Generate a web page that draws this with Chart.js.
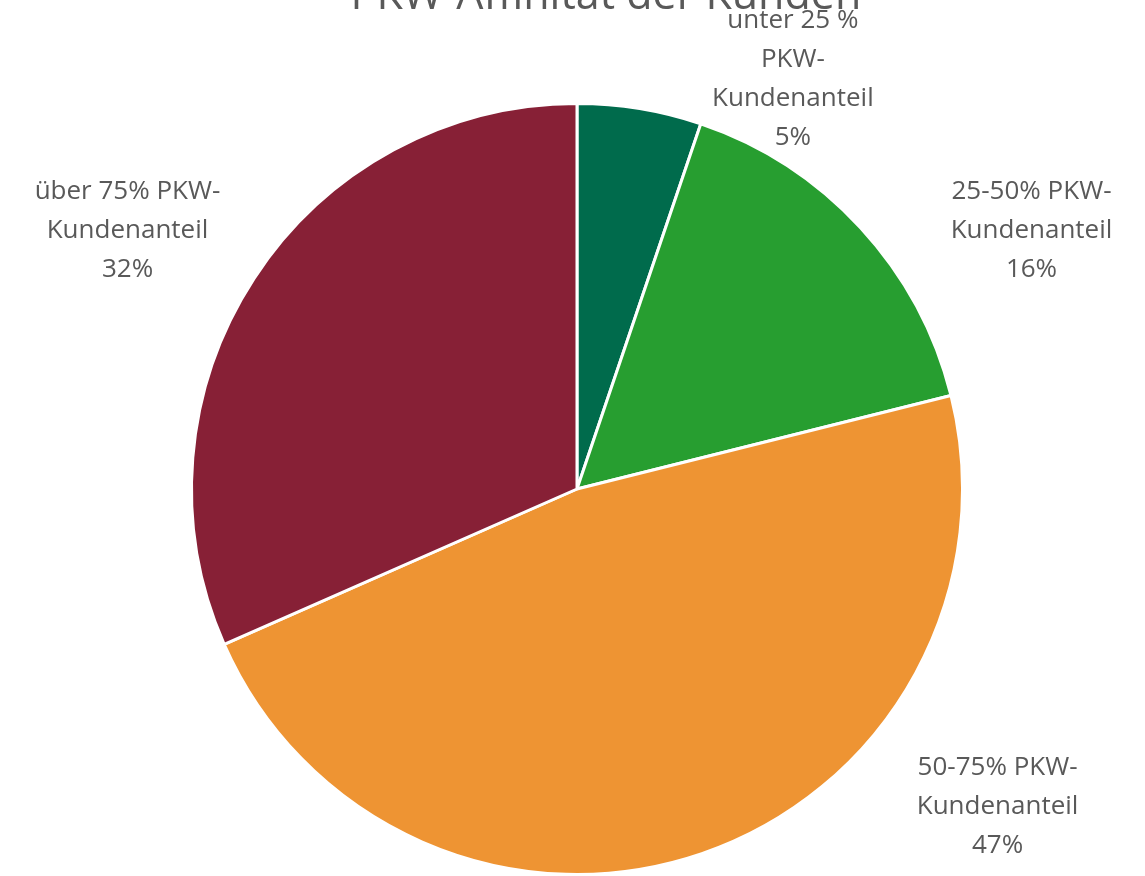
<!DOCTYPE html>
<html>
<head>
<meta charset="utf-8">
<script src="https://cdn.jsdelivr.net/npm/chart.js@4/dist/chart.umd.min.js"></script>
<style>
  html, body { margin: 0; padding: 0; background: #ffffff; }
  #wrap { width: 1145px; height: 876px; position: relative; }
</style>
</head>
<body>
<div id="wrap"><canvas id="c" width="1145" height="876"></canvas></div>
<script>
const chartTitle = "PKW-Affinität der Kunden";
const categories = [
  ["unter 25 %", "PKW-", "Kundenanteil"],
  ["25-50% PKW-", "Kundenanteil"],
  ["50-75% PKW-", "Kundenanteil"],
  ["über 75% PKW-", "Kundenanteil"]
];
const values = [5.2, 15.9, 47.3, 31.6];
const valueLabels = ["5%", "16%", "47%", "32%"];
const colors = ["#006B4C", "#279E30", "#EE9433", "#872036"];
// label block centres, relative to the pie centre, in units of the radius
const labelOffsets = [[0.560, -1.063], [1.179, -0.671], [1.091, 0.824], [-1.166, -0.671]];

const labelPlugin = {
  id: 'pieLabels',
  afterDatasetsDraw(chart) {
    const ctx = chart.ctx;
    const meta = chart.getDatasetMeta(0);
    const arc0 = meta.data[0];
    const cx = arc0.x, cy = arc0.y, r = arc0.outerRadius;
    ctx.save();
    ctx.fillStyle = '#595959';
    ctx.font = '26px "Open Sans"';
    ctx.textAlign = 'center';
    ctx.textBaseline = 'middle';
    const lh = 39;
    categories.forEach((lines, i) => {
      const all = lines.concat([valueLabels[i]]);
      const bx = cx + labelOffsets[i][0] * r;
      const by = cy + labelOffsets[i][1] * r;
      const top = by - (all.length - 1) * lh / 2;
      all.forEach((t, j) => ctx.fillText(t, bx, top + j * lh));
    });
    // title (partly clipped at the top, as in the reference)
    ctx.font = '43px "Open Sans"';
    ctx.fillStyle = '#595959';
    ctx.textBaseline = 'alphabetic';
    ctx.fillText(chartTitle, cx + 0.075 * r, 9);
    ctx.restore();
  }
};

new Chart(document.getElementById('c'), {
  type: 'pie',
  data: {
    labels: categories.map(l => l.join(' ')),
    datasets: [{
      data: values,
      backgroundColor: colors,
      borderColor: '#ffffff',
      borderWidth: 3,
      hoverOffset: 0
    }]
  },
  options: {
    responsive: false,
    animation: false,
    layout: { padding: { left: 188, right: 179, top: 102, bottom: -4 } },
    plugins: {
      legend: { display: false },
      tooltip: { enabled: false },
      title: { display: false }
    }
  },
  plugins: [labelPlugin]
});
</script>
</body>
</html>
